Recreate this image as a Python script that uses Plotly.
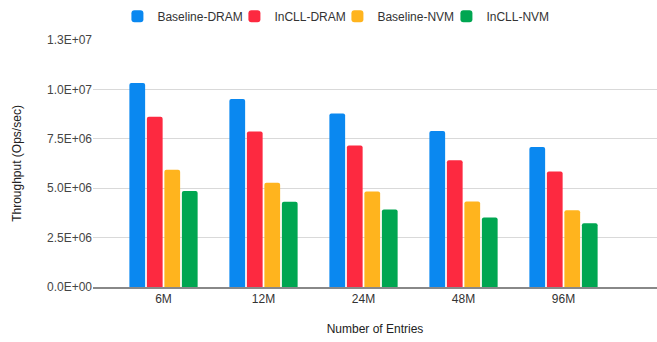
from decimal import Decimal, ROUND_HALF_UP

import plotly.graph_objects as go

# Throughput per table size, four configurations
entries = ["6M", "12M", "24M", "48M", "96M"]
baseline_dram = [10.33e6, 9.52e6, 8.78e6, 7.89e6, 7.08e6]
incll_dram = [8.61e6, 7.87e6, 7.16e6, 6.42e6, 5.85e6]
baseline_nvm = [5.93e6, 5.27e6, 4.83e6, 4.33e6, 3.89e6]
incll_nvm = [4.86e6, 4.31e6, 3.92e6, 3.52e6, 3.23e6]

y_ticks = [0, 2.5e6, 5.0e6, 7.5e6, 10.0e6, 12.5e6]


def sci_label(v):
    # Spreadsheet-style "0.0E+00" tick labels (half-up rounding of the mantissa)
    if v == 0:
        return "0.0E+00"
    d = Decimal(str(v))
    exp = d.adjusted()
    mant = (d.scaleb(-exp)).quantize(Decimal("0.1"), rounding=ROUND_HALF_UP)
    if mant >= 10:
        mant = (mant / 10).quantize(Decimal("0.1"), rounding=ROUND_HALF_UP)
        exp += 1
    return f"{mant}E{exp:+03d}"


# name, values, colour, legend entry width (px)
series = [
    ("Baseline-DRAM", baseline_dram, "#0A88F0", 72),
    ("InCLL-DRAM", incll_dram, "#FD2940", 58),
    ("Baseline-NVM", baseline_nvm, "#FFB41E", 64),
    ("InCLL-NVM", incll_nvm, "#00A651", 60),
]

fig = go.Figure()
for name, vals, color, lw in series:
    fig.add_trace(go.Bar(
        x=entries, y=vals, name=name, legendwidth=lw,
        marker=dict(color=color, line=dict(width=0)),
    ))

font_family = "Liberation Sans, Arial, sans-serif"

fig.update_layout(
    width=657, height=342,
    margin=dict(l=93, r=0, t=40, b=55),
    paper_bgcolor="white", plot_bgcolor="white",
    font=dict(family=font_family, size=12, color="#444444"),
    barmode="group", bargap=0.3, bargroupgap=0.1, barcornerradius=2,
    showlegend=True,
    legend=dict(
        orientation="h", xref="container", x=0.509, xanchor="center",
        yref="container", y=0.995, yanchor="top",
        font=dict(size=12, color="#333333"),
        itemclick=False, traceorder="normal",
    ),
)

fig.update_xaxes(
    type="category", range=[-0.705, 4.935],
    showgrid=False, showline=True, linecolor="#888888", linewidth=1.5,
    ticks="", tickfont=dict(size=12, color="#333333"),
    title=dict(text="Number of Entries", font=dict(size=12, color="#222222"), standoff=19),
    fixedrange=True,
)
fig.update_yaxes(
    range=[0, 12.5e6],
    tickvals=y_ticks, ticktext=[sci_label(v) for v in y_ticks],
    showgrid=True, gridcolor="#D9D9D9", gridwidth=1,
    zeroline=False, showline=False, ticks="",
    tickfont=dict(size=12, color="#444444"),
    title=dict(text="Throughput (Ops/sec)", font=dict(size=12, color="#222222"), standoff=22),
    fixedrange=True,
)

fig.write_html("out.html")
